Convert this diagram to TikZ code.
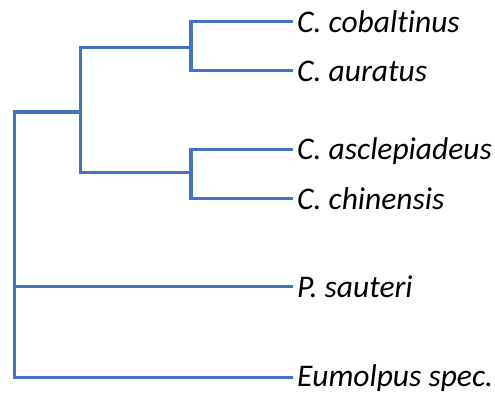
\documentclass[tikz,border=0pt]{standalone}
\usepackage{fontspec}
\setmainfont{Carlito}[Ligatures={NoCommon}]
\begin{document}
\begin{tikzpicture}[x=1pt,y=-1pt,
  branch/.style={draw=treeblue,line width=3.2pt,line join=miter},
  leaf/.style={anchor=base west,inner sep=0pt,font=\fontsize{31.5}{33}\selectfont\itshape,yshift=-10.5pt,xshift=4pt}]
\definecolor{treeblue}{HTML}{4472C4}
\useasboundingbox (0,0) rectangle (495,394);
% leaf line ends
\coordinate (e1) at (293,21.7);
\coordinate (e2) at (293,70.7);
\coordinate (e3) at (293,149.3);
\coordinate (e4) at (293,198.5);
\coordinate (e5) at (293,286.7);
\coordinate (e6) at (293,377.7);
% internal nodes
\coordinate (u) at (191,47.7);
\coordinate (l) at (191,172.7);
\coordinate (c) at (80.7,112);
\coordinate (rtop) at (14.7,112);
\coordinate (rbot) at (14.7,377.7);
% labels
\node[leaf] (n1) at (e1) {C. cobaltinus};
\node[leaf] (n2) at (e2) {C. auratus};
\node[leaf] (n3) at (e3) {C. asclepiadeus};
\node[leaf] (n4) at (e4) {C. chinensis};
\node[leaf] (n5) at (e5) {P. sauteri};
\node[leaf,yshift=1.5pt] (n6) at (e6) {Eumolpus spec.};
% branches
\draw[branch] (e1) -| (u) |- (e2);
\draw[branch] (e3) -| (l) |- (e4);
\draw[branch] (u) -| (c) |- (l);
\draw[branch] (c) -- (rtop) -- (rbot) -- (e6);
\draw[branch] (e5) -- (e5 -| rtop);
\end{tikzpicture}
\end{document}
